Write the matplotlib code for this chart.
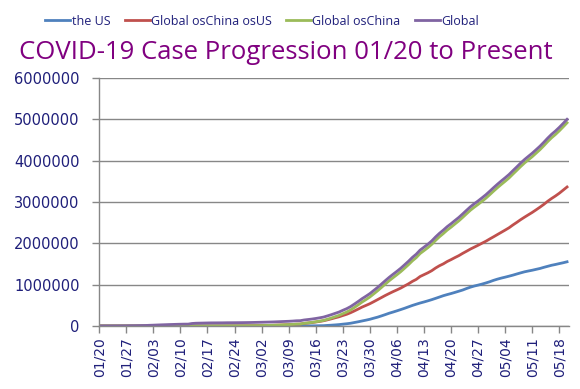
import numpy as np
import pandas as pd
import matplotlib
matplotlib.use("Agg")
import matplotlib.pyplot as plt

# cumulative confirmed cases, thousands, 01/20 .. 05/20
global_k = [
    0.28, 0.31, 0.56, 0.65, 0.94, 1.43, 2.12, 2.93, 5.58, 6.17, 8.23, 9.93,
    12.04, 16.79, 19.88, 23.90, 27.64, 30.80, 34.40, 37.13, 40.16, 42.77, 44.81, 45.23,
    60.38, 66.91, 69.05, 71.24, 73.27, 75.15, 75.65, 76.21, 76.84, 78.60, 78.98, 79.55,
    80.40, 81.38, 82.74, 84.12, 86.01,
    88.37, 90.31, 92.84, 95.12, 97.89, 101.80, 105.84, 109.84, 113.58, 118.58, 125.87,
    128.34, 145.19, 156.09, 167.45, 181.53, 197.14, 214.91, 242.71, 272.17, 304.52,
    335.96, 378.24, 418.05, 467.65, 529.59, 593.29, 660.71, 720.12, 782.37, 857.49,
    932.61, 1013.47, 1095.92, 1176.06, 1249.75, 1321.48, 1396.48, 1480.20, 1565.28,
    1657.53, 1735.65, 1834.72, 1904.84, 1976.19, 2056.05, 2152.44, 2240.19, 2317.76,
    2401.38, 2472.26, 2549.12, 2624.09, 2708.40, 2795.73, 2881.14, 2955.03, 3023.72,
    3097.23, 3172.29, 3256.85,
    3343.78, 3427.34, 3506.73, 3583.06, 3662.69, 3755.34, 3845.72, 3938.06, 4024.01,
    4101.70, 4177.50, 4261.75, 4347.02, 4442.16, 4542.35, 4634.07, 4713.62, 4801.94,
    4897.49, 4996.47,
]

china_k = [
    0.28, 0.31, 0.55, 0.64, 0.92, 1.41, 2.08, 2.88, 5.51, 6.09, 8.14, 9.80,
    11.89, 16.63, 19.72, 23.71, 27.44, 30.59, 34.11, 36.81, 39.82, 42.35, 44.33, 44.70,
    59.89, 66.36, 68.41, 70.51, 72.43, 74.25, 74.58, 75.00, 75.55, 76.95, 77.00, 77.24,
    77.75, 78.17, 78.60, 78.93, 79.36,
    79.93, 80.13, 80.26, 80.39, 80.54, 80.69, 80.77, 80.82, 80.86, 80.88, 80.92, 80.93,
    80.95, 80.98, 81.00, 81.03, 81.06, 81.10, 81.16, 81.25, 81.31, 81.44, 81.50, 81.59,
    81.66, 81.78, 81.90, 81.99, 82.12, 82.20, 82.28,
    82.36, 82.43, 82.51, 82.54, 82.60, 82.64, 82.72, 82.81, 82.88, 82.93, 83.01, 83.13,
    83.21, 83.31, 83.36, 83.40, 83.76, 83.79, 83.81, 83.82, 83.85, 83.87, 83.88, 83.90,
    83.91, 83.91, 83.91, 83.94, 83.94, 83.94,
    83.96, 83.96, 83.96, 83.96, 83.97, 83.97, 83.97, 83.99, 84.01, 84.01, 84.02, 84.02,
    84.02, 84.03, 84.04, 84.04, 84.05, 84.06, 84.06, 84.06,
]

us_k = [
    0.0, 0.001, 0.001, 0.001, 0.002, 0.002, 0.005, 0.005, 0.005, 0.005, 0.005, 0.007,
    0.008, 0.008, 0.011, 0.011, 0.012, 0.012, 0.012, 0.012, 0.012, 0.012, 0.013, 0.013,
    0.014, 0.014, 0.014, 0.014, 0.014, 0.014, 0.014, 0.014, 0.015, 0.015, 0.015, 0.051,
    0.051, 0.057, 0.058, 0.060, 0.068,
    0.074, 0.098, 0.118, 0.149, 0.217, 0.262, 0.402, 0.518, 0.583, 0.959, 1.281, 1.663,
    2.179, 2.727, 3.499, 4.632, 6.421, 7.786, 13.68, 19.10, 25.49, 33.27, 43.85, 53.74,
    65.78, 83.84, 101.66, 121.48, 140.89, 161.83, 188.17,
    213.24, 243.62, 275.37, 308.65, 336.80, 366.32, 397.12, 428.65, 462.78, 496.54,
    526.40, 555.31, 580.62, 607.67, 636.35, 667.80, 699.71, 732.20, 759.09, 784.33,
    811.87, 840.35, 869.17, 905.36, 938.15, 965.79, 988.20, 1012.58, 1039.91, 1069.42,
    1103.46, 1132.54, 1158.04, 1180.38, 1204.35, 1229.33, 1257.02, 1283.93, 1309.55,
    1329.26, 1347.88, 1369.38, 1390.41, 1417.77, 1442.82, 1467.82, 1486.76, 1508.31,
    1528.57, 1551.85,
]

dates = pd.date_range("2020-01-20", periods=len(global_k), freq="D")
tick_labels = [d.strftime("%m/%d") for d in dates[::7]]
y_ticks = [0, 1000000, 2000000, 3000000, 4000000, 5000000, 6000000]

COLORS = {"us": "#4F81BD", "red": "#C0504D", "green": "#9BBB59", "global": "#8064A2"}
NAVY = "#1F1F7A"
GRID = "#878787"

glob = np.array(global_k) * 1000
china = np.array(china_k) * 1000
us = np.array(us_k) * 1000
ex_china = np.clip(glob - china, 0, None)
ex_china_us = np.clip(ex_china - us, 0, None)

x = np.arange(len(dates))

fig = plt.figure(figsize=(5.8, 3.89), dpi=100)
ax = fig.add_axes([0.171, 0.162, 0.81, 0.638])

lw = 2.0
ax.plot(x, us, color=COLORS["us"], lw=lw, label="the US")
ax.plot(x, ex_china_us, color=COLORS["red"], lw=lw, label="Global osChina osUS")
ax.plot(x, ex_china, color=COLORS["green"], lw=lw, label="Global osChina")
ax.plot(x, glob, color=COLORS["global"], lw=lw, label="Global")

ax.set_xlim(0, len(x) - 0.5)
ax.set_ylim(0, 6000000)
ax.set_yticks(y_ticks)
ax.set_yticklabels([str(v) for v in y_ticks])
ax.set_xticks(x[::7])
ax.set_xticklabels(tick_labels, rotation=90)

ax.grid(axis="y", color=GRID, lw=1)
ax.set_axisbelow(True)
for s in ["top", "right"]:
    ax.spines[s].set_visible(False)
for s in ["left", "bottom"]:
    ax.spines[s].set_color(GRID)
    ax.spines[s].set_linewidth(1)
ax.tick_params(axis="both", colors=GRID, labelcolor=NAVY, labelsize=10.5,
               length=5, width=1)
ax.tick_params(axis="y", pad=9)
ax.tick_params(axis="x", labelsize=10, pad=3)

fig.text(0.493, 0.866, "COVID-19 Case Progression 01/20 to Present",
         ha="center", va="center", color="#800080", fontsize=18.5, family="Open Sans")

fig.legend(loc="center", bbox_to_anchor=(0.452, 0.946), ncol=4, frameon=False,
           handlelength=2.0, handletextpad=0.1, columnspacing=1.15,
           labelcolor=NAVY, prop={"family": "Open Sans", "size": 9})

fig.savefig("out.png", dpi=100)
